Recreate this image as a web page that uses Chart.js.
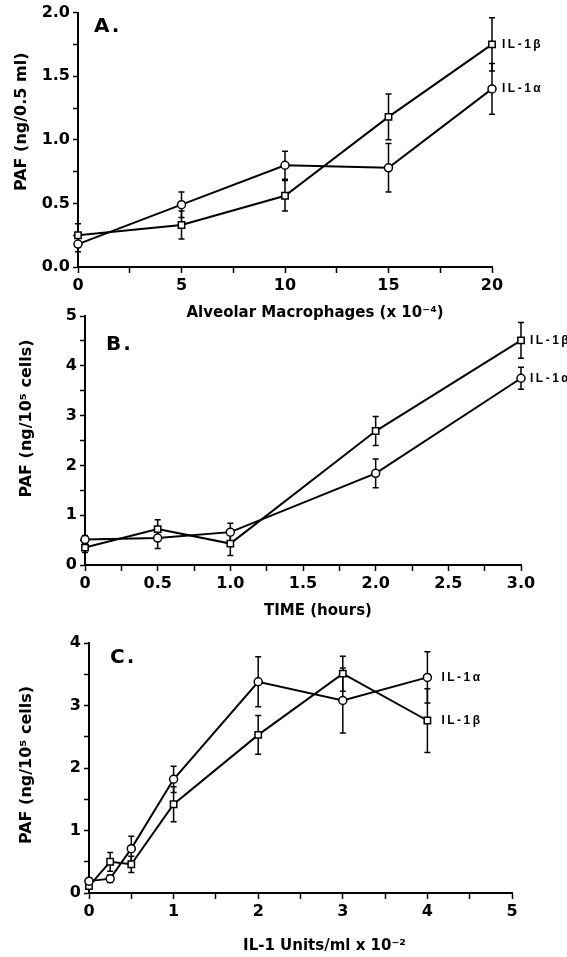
<!DOCTYPE html>
<html>
<head>
<meta charset="utf-8">
<script src="https://cdn.jsdelivr.net/npm/chart.js@4.4.1/dist/chart.umd.min.js"></script>
<style>
    body { margin: 0; background: #fff; }
    #wrap { position: relative; width: 567px; height: 957px; }
    canvas { position: absolute; left: 0; }
</style>
</head>
<body>
<div id="wrap">
    <canvas id="chartA" width="567" height="325" style="top:0px"></canvas>
    <canvas id="chartB" width="567" height="322" style="top:300px"></canvas>
    <canvas id="chartC" width="567" height="332" style="top:625px"></canvas>
</div>
<script>
// Panel A: PAF vs number of alveolar macrophages (x 10^-4)
const cellsA = [0, 5, 10, 15, 20];
const il1bA = [0.25, 0.33, 0.56, 1.18, 1.75];
const il1bErrA = [0.09, 0.11, 0.12, 0.18, 0.21];
const il1aA = [0.18, 0.49, 0.80, 0.78, 1.40];
const il1aErrA = [0.06, 0.10, 0.11, 0.19, 0.20];

// Panel B: PAF vs time (hours)
const timeB = [0, 0.5, 1, 2, 3];
const il1bB = [0.35, 0.72, 0.43, 2.69, 4.51];
const il1bErrB = [0.10, 0.19, 0.24, 0.29, 0.36];
const il1aB = [0.51, 0.54, 0.66, 1.84, 3.75];
const il1aErrB = [0.08, 0.21, 0.18, 0.29, 0.22];

// Panel C: PAF vs IL-1 dose (units/ml x 10^-2)
const doseC = [0, 0.25, 0.5, 1, 2, 3, 4];
const il1aC = [0.19, 0.23, 0.71, 1.82, 3.38, 3.08, 3.45];
const il1aErrC = [0.05, 0.06, 0.20, 0.21, 0.40, 0.52, 0.41];
const il1bC = [0.11, 0.50, 0.46, 1.42, 2.53, 3.51, 2.76];
const il1bErrC = [0.05, 0.15, 0.13, 0.28, 0.31, 0.28, 0.51];

const FONT = "'DejaVu Sans', Verdana, sans-serif";
const LABEL_FONT = "'Liberation Sans', Arial, Helvetica, sans-serif";

function points(xs, ys) {
    return xs.map((x, i) => ({ x: x, y: ys[i] }));
}

function series(label, xs, ys, errs, style) {
    return {
        label: label,
        data: points(xs, ys),
        errors: errs,
        clip: false,
        borderColor: '#000',
        borderWidth: 2,
        pointStyle: style,
        pointRadius: style === 'rect' ? 4.5 : 4,
        pointBackgroundColor: '#fff',
        pointBorderColor: '#000',
        pointBorderWidth: 1.5,
        tension: 0,
        fill: false
    };
}

// error bars, series names, panel letter and the axis titles
const extras = {
    id: 'extras',
    beforeDatasetsDraw(chart) {
        const ctx = chart.ctx;
        const yScale = chart.scales.y;
        chart.data.datasets.forEach((ds, i) => {
            const meta = chart.getDatasetMeta(i);
            ctx.save();
            ctx.strokeStyle = '#000';
            ctx.lineWidth = 1.5;
            meta.data.forEach((pt, j) => {
                const v = ds.data[j].y;
                const e = ds.errors[j];
                const top = yScale.getPixelForValue(v + e);
                const bot = yScale.getPixelForValue(v - e);
                ctx.beginPath();
                ctx.moveTo(pt.x, top);
                ctx.lineTo(pt.x, bot);
                ctx.moveTo(pt.x - 3, top);
                ctx.lineTo(pt.x + 3, top);
                ctx.moveTo(pt.x - 3, bot);
                ctx.lineTo(pt.x + 3, bot);
                ctx.stroke();
            });
            ctx.restore();
        });
    },
    afterDatasetsDraw(chart, args, opts) {
        const ctx = chart.ctx;
        const area = chart.chartArea;
        ctx.save();
        ctx.fillStyle = '#000';
        ctx.textBaseline = 'middle';
        ctx.textAlign = 'left';
        ctx.font = 'bold 12px ' + LABEL_FONT;
        ctx.letterSpacing = '2.5px';
        chart.data.datasets.forEach((ds, i) => {
            const meta = chart.getDatasetMeta(i);
            const last = meta.data[meta.data.length - 1];
            ctx.fillText(ds.label, last.x + opts.labelDx, last.y);
        });
        ctx.letterSpacing = '2px';
        ctx.font = 'bold 20px ' + FONT;
        ctx.fillText(opts.letter, area.left + opts.letterDx, area.top + opts.letterDy);

        // axis titles, set a little off centre like the original figure
        ctx.letterSpacing = '0px';
        ctx.textAlign = 'center';
        ctx.font = 'bold 15px ' + FONT;
        ctx.fillText(opts.xTitle, (area.left + area.right) / 2 + opts.xTitleDx, area.bottom + opts.xTitleDy);
        ctx.font = 'bold 16px ' + FONT;
        ctx.translate(area.left + opts.yTitleDx, (area.top + area.bottom) / 2 + opts.yTitleDy);
        ctx.rotate(-Math.PI / 2);
        ctx.fillText(opts.yTitle, 0, 0);
        ctx.restore();
    }
};

function makeChart(id, cfg) {
    const tickFont = { family: FONT, size: 16, weight: 'bold' };
    return new Chart(document.getElementById(id), {
        type: 'line',
        data: { datasets: cfg.datasets },
        options: {
            responsive: false,
            animation: false,
            layout: { padding: cfg.padding },
            plugins: {
                legend: { display: false },
                tooltip: { enabled: false },
                extras: cfg.extras
            },
            scales: {
                x: {
                    type: 'linear',
                    min: cfg.xMin, max: cfg.xMax,
                    afterFit: (s) => { s.height = cfg.xHeight; },
                    border: { display: true, color: '#000', width: 2 },
                    grid: { display: true, drawOnChartArea: false, tickLength: 6, tickColor: '#000', tickWidth: 1.5 },
                    ticks: {
                        stepSize: cfg.xStep, autoSkip: false, maxRotation: 0,
                        color: '#000', font: tickFont, padding: 3,
                        callback: cfg.xLabel
                    }
                },
                y: {
                    type: 'linear',
                    min: cfg.yMin, max: cfg.yMax,
                    afterFit: (s) => { s.width = cfg.yWidth; },
                    border: { display: true, color: '#000', width: 2 },
                    grid: { display: true, drawOnChartArea: false, tickLength: 5, tickColor: '#000', tickWidth: 1.5 },
                    ticks: {
                        stepSize: cfg.yStep, autoSkip: false,
                        color: '#000', font: tickFont, padding: 3,
                        callback: cfg.yLabel
                    }
                }
            }
        },
        plugins: [extras]
    });
}

function isMultiple(v, m) {
    return Math.abs(v / m - Math.round(v / m)) < 1e-6;
}

makeChart('chartA', {
    datasets: [
        series('IL-1β', cellsA, il1bA, il1bErrA, 'rect'),
        series('IL-1α', cellsA, il1aA, il1aErrA, 'circle')
    ],
    padding: { top: 11, right: 75, left: 0, bottom: 0 },
    xMin: 0, xMax: 20, xStep: 2.5, xHeight: 58,
    xLabel: (v) => isMultiple(v, 5) ? String(v) : '',
    yMin: 0, yMax: 2, yStep: 0.25, yWidth: 78,
    yLabel: (v) => isMultiple(v, 0.5) ? v.toFixed(1) : '',
    extras: {
        letter: 'A.', letterDx: 16, letterDy: 14, labelDx: 10,
        xTitle: 'Alveolar Macrophages (x 10⁻⁴)', xTitleDx: 30, xTitleDy: 46,
        yTitle: 'PAF (ng/0.5 ml)', yTitleDx: -56, yTitleDy: -18
    }
});

makeChart('chartB', {
    datasets: [
        series('IL-1β', timeB, il1bB, il1bErrB, 'rect'),
        series('IL-1α', timeB, il1aB, il1aErrB, 'circle')
    ],
    padding: { top: 16, right: 46, left: 0, bottom: 0 },
    xMin: 0, xMax: 3, xStep: 0.25, xHeight: 57,
    xLabel: (v) => isMultiple(v, 0.5) ? (v === 0 ? '0' : v.toFixed(1)) : '',
    yMin: 0, yMax: 5, yStep: 0.5, yWidth: 85,
    yLabel: (v) => isMultiple(v, 1) ? String(v) : '',
    extras: {
        letter: 'B.', letterDx: 21, letterDy: 29, labelDx: 9,
        xTitle: 'TIME (hours)', xTitleDx: 15, xTitleDy: 46,
        yTitle: 'PAF (ng/10⁵ cells)', yTitleDx: -58, yTitleDy: -22
    }
});

makeChart('chartC', {
    datasets: [
        series('IL-1α', doseC, il1aC, il1aErrC, 'circle'),
        series('IL-1β', doseC, il1bC, il1bErrC, 'rect')
    ],
    padding: { top: 18, right: 55, left: 0, bottom: 0 },
    xMin: 0, xMax: 5, xStep: 0.5, xHeight: 64,
    xLabel: (v) => isMultiple(v, 1) ? String(v) : '',
    yMin: 0, yMax: 4, yStep: 0.5, yWidth: 89,
    yLabel: (v) => isMultiple(v, 1) ? String(v) : '',
    extras: {
        letter: 'C.', letterDx: 21, letterDy: 15, labelDx: 14,
        xTitle: 'IL-1 Units/ml x 10⁻²', xTitleDx: 24, xTitleDy: 53,
        yTitle: 'PAF (ng/10⁵ cells)', yTitleDx: -62, yTitleDy: -3
    }
});
</script>
</body>
</html>
